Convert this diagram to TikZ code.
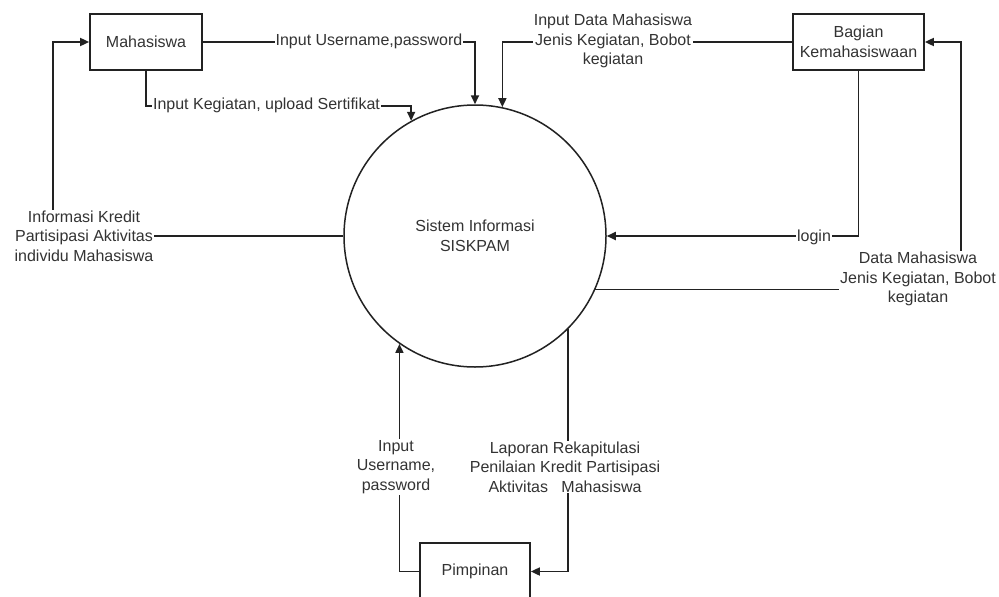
\documentclass[tikz,border=0pt]{standalone}
\usepackage{fontspec}
\setmainfont{Liberation Sans}
\usetikzlibrary{arrows.meta}
\definecolor{ink}{HTML}{222222}
\definecolor{txt}{HTML}{333333}
\begin{document}
\begin{tikzpicture}[x=1pt,y=-1pt,
  every node/.style={font=\fontsize{16}{19.5}\selectfont, text=txt},
  box/.style={draw=ink, line width=1.7pt, minimum width=#1, minimum height=56pt, inner sep=0pt, align=center},
  box/.default=112pt,
  lbl/.style={fill=white, inner sep=1pt, align=center},
  flow/.style={draw=ink, line width=1.7pt, -{Triangle[length=9pt,width=8pt]}},
  plain/.style={draw=ink, line width=1.7pt}]
\clip (0,0) rectangle (999,597);
\fill[white] (0,0) rectangle (999,597);

% processes and entities
\node[circle, draw=ink, line width=1.5pt, minimum size=262pt, inner sep=0pt, align=center] (sys) at (475,236) {Sistem Informasi\\SISKPAM};
\node[box=112pt] (mhs) at (146,42) {Mahasiswa};
\node[box=131pt] (bag) at (858.5,42) {Bagian\\Kemahasiswaan};
\node[box=110pt, minimum height=57pt] (pim) at (475,571.5) {Pimpinan};

% helper coordinates
\coordinate (y2) at (0,106);
\coordinate (lc) at (53,0);
\coordinate (rc) at (961,0);

% connectors
\draw[flow] (mhs.east) -| (sys.north);
\draw[flow] (mhs.south) |- (sys.119.7 |- y2) -- (sys.119.7);
\draw[flow] (bag.west) -| (sys.78.1);
\draw[flow] (bag.south) |- (sys.east);
\draw[flow] (sys.-24.4) -| (rc |- bag.east) -- (bag.east);
\draw[flow] (sys.west) -| (lc |- mhs.west) -- (mhs.west);
\draw[flow] (pim.west) -| (sys.-125.4);
\draw[flow] (sys.-45.9) |- (pim.east);

% labels
\node[lbl] (l1) at (369,41) {Input Username,password};
\node[lbl] (l2) at (266.5,105) {Input Kegiatan, upload Sertifikat};
\node[lbl] (l3) at (613,41) {Input Data Mahasiswa\\Jenis Kegiatan, Bobot\\kegiatan};
\node[lbl] (l4) at (814,237) {login};
\node[lbl] (l5) at (918,279) {Data Mahasiswa\\Jenis Kegiatan, Bobot\\kegiatan};
\node[lbl] (l6) at (84,236) {Informasi Kredit\\Partisipasi Aktivitas\\individu Mahasiswa};
\node[lbl] (l7) at (396,467) {Input\\Username,\\password};
\node[lbl] (l8) at (565,467) {Laporan Rekapitulasi\\Penilaian Kredit Partisipasi\\Aktivitas~~~Mahasiswa};
\end{tikzpicture}
\end{document}
